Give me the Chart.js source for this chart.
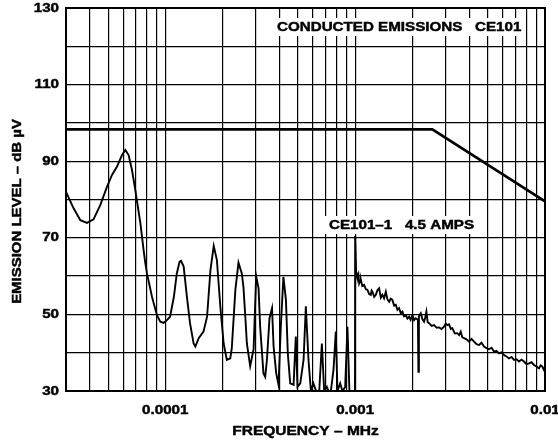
<!DOCTYPE html>
<html>
<head>
<meta charset="utf-8">
<script src="https://cdn.jsdelivr.net/npm/chart.js@4.4.1/dist/chart.umd.min.js"></script>
<style>
  html, body { margin: 0; padding: 0; background: #fff; }
  #wrap { width: 558px; height: 442px; position: relative; }
</style>
</head>
<body>
<div id="wrap"><canvas id="grafica"></canvas></div>
<script>
// Trazo medido: frecuencia (MHz) y nivel (dB µV)
const freqMHz = [
  3.0e-5, 3.29e-5, 3.57e-5, 3.87e-5, 4.19e-5, 4.55e-5, 4.93e-5, 5.24e-5, 5.57e-5, 5.92e-5,
  6.16e-5, 6.41e-5, 6.68e-5, 6.95e-5, 7.39e-5, 7.69e-5, 7.85e-5, 8.01e-5, 8.51e-5, 9.04e-5,
  9.41e-5, 9.80e-5, 1.02e-4, 1.06e-4, 1.11e-4, 1.15e-4, 1.19e-4, 1.21e-4, 1.25e-4, 1.30e-4,
  1.35e-4, 1.41e-4, 1.44e-4, 1.50e-4, 1.59e-4, 1.66e-4, 1.73e-4, 1.80e-4, 1.87e-4, 1.95e-4,
  2.03e-4, 2.11e-4, 2.20e-4, 2.24e-4, 2.34e-4, 2.43e-4, 2.53e-4, 2.58e-4, 2.64e-4, 2.69e-4,
  2.80e-4, 2.92e-4, 3.01e-4, 3.10e-4, 3.16e-4, 3.29e-4, 3.36e-4, 3.43e-4, 3.54e-4, 3.65e-4,
  3.72e-4, 3.84e-4, 3.95e-4, 4.06e-4, 4.19e-4, 4.32e-4, 4.42e-4, 4.55e-4, 4.74e-4, 4.87e-4,
  4.97e-4, 5.14e-4, 5.35e-4, 5.50e-4, 5.68e-4, 5.85e-4, 6.03e-4, 6.23e-4, 6.47e-4, 6.68e-4,
  6.87e-4, 7.10e-4, 7.24e-4, 7.45e-4, 7.69e-4, 7.91e-4, 8.07e-4, 8.34e-4, 8.57e-4, 8.86e-4,
  9.11e-4, 9.33e-4, 9.80e-4, 9.98e-4,
  1.000e-3, 1.012e-3, 1.020e-3, 1.028e-3, 1.040e-3, 1.050e-3, 1.061e-3, 1.072e-3, 1.090e-3, 1.115e-3,
  1.138e-3, 1.161e-3, 1.185e-3, 1.209e-3, 1.221e-3, 1.233e-3, 1.260e-3, 1.285e-3, 1.310e-3, 1.338e-3,
  1.365e-3, 1.392e-3, 1.420e-3, 1.451e-3, 1.480e-3, 1.510e-3, 1.540e-3, 1.571e-3, 1.605e-3, 1.637e-3,
  1.670e-3, 1.704e-3, 1.740e-3, 1.774e-3, 1.810e-3, 1.848e-3, 1.885e-3, 1.924e-3, 1.960e-3, 2.002e-3,
  2.045e-3, 2.086e-3, 2.141e-3, 2.154e-3, 2.167e-3, 2.217e-3, 2.260e-3, 2.307e-3, 2.340e-3, 2.373e-3,
  2.410e-3, 2.452e-3, 2.530e-3, 2.605e-3, 2.690e-3, 2.768e-3, 2.850e-3, 2.940e-3, 3.000e-3, 3.060e-3,
  3.124e-3, 3.190e-3, 3.252e-3, 3.350e-3, 3.454e-3, 3.530e-3, 3.600e-3, 3.670e-3, 3.748e-3, 3.860e-3,
  3.981e-3, 4.100e-3, 4.229e-3, 4.360e-3, 4.493e-3, 4.630e-3, 4.773e-3, 4.920e-3, 5.073e-3, 5.230e-3,
  5.389e-3, 5.550e-3, 5.727e-3, 5.900e-3, 6.083e-3, 6.270e-3, 6.465e-3, 6.660e-3, 6.869e-3, 7.080e-3,
  7.298e-3, 7.520e-3, 7.754e-3, 7.990e-3, 8.238e-3, 8.490e-3, 8.752e-3, 9.020e-3, 9.299e-3, 9.480e-3,
  9.678e-3, 9.850e-3, 1.000e-2
];
const levelDb = [
  82.0, 77.7, 74.6, 73.9, 74.8, 78.6, 83.3, 86.4, 88.6, 91.6,
  92.9, 91.6, 87.7, 82.5, 73.9, 66.8, 63.4, 60.7, 54.6, 49.8,
  48.1, 47.8, 48.5, 49.4, 54.6, 60.7, 63.8, 64.0, 62.5, 54.6,
  47.7, 42.4, 41.6, 43.8, 45.5, 49.4, 61.6, 67.9, 64.2, 52.0,
  42.4, 38.1, 38.5, 41.1, 56.4, 63.5, 60.7, 57.2, 49.4, 42.4,
  36.5, 41.0, 60.0, 56.8, 46.8, 34.6, 33.7, 38.1, 49.0, 51.6,
  41.6, 34.6, 31.6, 46.8, 59.8, 53.8, 39.8, 32.0, 31.6, 44.2,
  31.1, 32.0, 38.1, 52.1, 38.1, 30.0, 32.0, 30.0, 30.0, 42.4,
  30.0, 31.1, 30.0, 30.0, 35.5, 45.5, 30.0, 32.0, 30.0, 31.0,
  46.8, 30.0, 30.0, 30.0,
  70.5, 61.0, 60.2, 59.4, 60.3, 58.1, 58.7, 59.0, 57.4, 57.7,
  56.6, 56.4, 55.3, 55.1, 56.2, 55.9, 54.6, 55.1, 56.3, 56.8,
  54.4, 55.1, 54.2, 55.9, 53.9, 53.3, 54.1, 53.8, 52.3, 52.5,
  51.2, 51.6, 50.3, 50.7, 49.5, 49.8, 48.9, 49.4, 48.6, 49.8,
  48.5, 49.0, 48.6, 35.0, 49.5, 50.3, 48.8, 48.1, 49.2, 50.7,
  48.0, 47.7, 47.0, 47.2, 46.5, 46.6, 46.2, 46.8, 47.6, 47.2,
  47.4, 46.2, 46.4, 45.0, 45.1, 44.6, 45.5, 44.0, 43.8, 43.5,
  42.9, 43.6, 42.9, 42.2, 42.0, 42.6, 41.6, 41.2, 40.9, 41.3,
  40.3, 40.5, 39.8, 40.1, 39.4, 39.0, 38.5, 38.9, 38.1, 38.3,
  37.7, 38.2, 37.7, 37.0, 37.2, 37.5, 36.8, 36.4, 35.9, 36.7,
  36.4, 35.6, 36.2
];

// Límite CE101
const limitFreq = [3e-5, 2.55e-3, 1e-2];
const limitDb = [98.3, 98.3, 79.5];

// Rejilla y etiquetas
const xGridValues = [
  3e-5, 4e-5, 5e-5, 6e-5, 7e-5, 8e-5, 9e-5,
  1e-4, 2e-4, 3e-4, 4e-4, 5e-4, 6e-4, 7e-4, 8e-4, 9e-4,
  1e-3, 2e-3, 3e-3, 4e-3, 5e-3, 6e-3, 7e-3, 8e-3, 9e-3, 1e-2
];
const xTickValues = [1e-4, 1e-3, 1e-2];
const xTickLabels = ['0.0001', '0.001', '0.01'];
const yTickValues = [30, 50, 70, 90, 110, 130];
const yTickLabels = ['30', '50', '70', '90', '110', '130'];
const xTitle = 'FREQUENCY – MHz';
const yTitle = 'EMISSION LEVEL – dB µV';
const chartTitle = 'CONDUCTED EMISSIONS   CE101';
const traceLabel = 'CE101–1   4.5 AMPS';

const FONT = '"Liberation Sans", Arial, sans-serif';
const STRETCH = 1.15;

// texto en negrita algo ensanchado, como el original
function drawText(c, text, x, y, size, align, angle) {
    c.save();
    c.font = 'bold ' + size + 'px ' + FONT;
    c.textBaseline = 'middle';
    c.textAlign = 'left';
    const w = c.measureText(text).width * STRETCH;
    c.translate(x, y);
    if (angle) c.rotate(angle);
    let dx = 0;
    if (align === 'center') dx = -w / 2;
    if (align === 'right') dx = -w;
    c.translate(dx, 0);
    c.scale(STRETCH, 1);
    c.fillStyle = '#000';
    c.strokeStyle = '#000';
    c.lineWidth = 0.45;
    c.fillText(text, 0, 0);
    c.strokeText(text, 0, 0);
    c.restore();
    return w;
}

function labelBox(c, text, x, y, size) {
    c.save();
    c.font = 'bold ' + size + 'px ' + FONT;
    const w = c.measureText(text).width * STRETCH;
    c.fillStyle = '#fff';
    c.fillRect(x - 4, y - 9, w + 8, 18);
    c.restore();
    drawText(c, text, x, y, size, 'left');
}

const textosPlugin = {
    id: 'textos',
    afterDraw(chart) {
        const c = chart.ctx;
        const a = chart.chartArea;
        const xs = chart.scales.x;
        const ys = chart.scales.y;

        c.save();
        c.strokeStyle = '#000';
        c.lineWidth = 2;
        c.strokeRect(a.left, a.top, a.right - a.left, a.bottom - a.top);
        c.restore();

        xTickValues.forEach((v, i) => {
            drawText(c, xTickLabels[i], xs.getPixelForValue(v), a.bottom + 19, 13.2, 'center');
        });
        yTickValues.forEach((v, i) => {
            drawText(c, yTickLabels[i], a.left - 7, ys.getPixelForValue(v), 13.2, 'right');
        });

        drawText(c, xTitle, (a.left + a.right) / 2, a.bottom + 40, 13.5, 'center');
        drawText(c, yTitle, 17, (a.top + a.bottom) / 2 + 12, 13, 'center', -Math.PI / 2);

        labelBox(c, chartTitle, 277, 27, 13.2);
        labelBox(c, traceLabel, 329, 225, 13.2);
    }
};

const ctx = document.getElementById('grafica').getContext('2d');
new Chart(ctx, {
    type: 'line',
    data: {
        datasets: [
            {
                label: 'CE101-1',
                data: freqMHz.map((f, i) => ({ x: f, y: levelDb[i] })),
                borderColor: '#000',
                borderWidth: 1.9,
                pointRadius: 0,
                tension: 0
            },
            {
                label: 'Limite',
                data: limitFreq.map((f, i) => ({ x: f, y: limitDb[i] })),
                borderColor: '#000',
                borderWidth: 2.7,
                pointRadius: 0,
                tension: 0
            }
        ]
    },
    options: {
        responsive: true,
        maintainAspectRatio: false,
        animation: false,
        events: [],
        layout: { padding: { left: 0, right: 13, top: 8, bottom: 0 } },
        plugins: { legend: { display: false }, tooltip: { enabled: false } },
        scales: {
            x: {
                type: 'logarithmic',
                min: 3e-5,
                max: 1e-2,
                afterBuildTicks: scale => {
                    scale.ticks = xGridValues.map(v => ({ value: v }));
                },
                afterFit: scale => { scale.height = 51; },
                ticks: { display: false },
                grid: { color: '#000', lineWidth: 1.2, drawTicks: false },
                border: { display: false }
            },
            y: {
                min: 30,
                max: 130,
                ticks: { display: false, stepSize: 10 },
                afterFit: scale => { scale.width = 66; },
                grid: { color: '#000', lineWidth: 1.2, drawTicks: false },
                border: { display: false }
            }
        }
    },
    plugins: [textosPlugin]
});
</script>
</body>
</html>
